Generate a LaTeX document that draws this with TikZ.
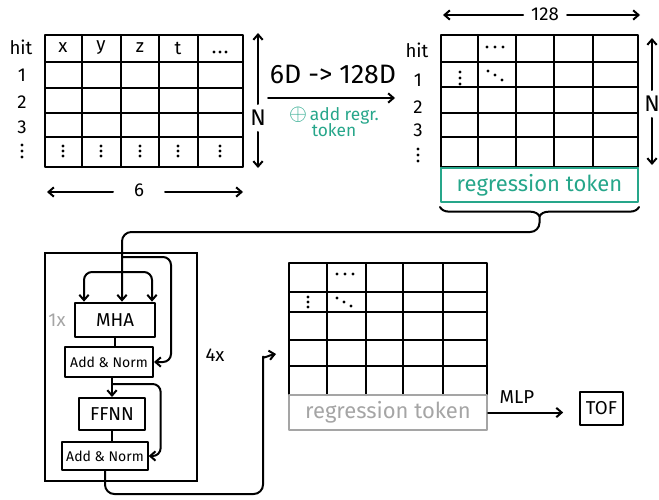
\documentclass[tikz,border=0pt]{standalone}
\usepackage{fontspec}
\setmainfont{Fira Sans}
\usetikzlibrary{arrows.meta,decorations.pathreplacing,calc}
\definecolor{tokgreen}{RGB}{38,166,138}
\definecolor{tokgray}{RGB}{165,165,165}
\tikzset{
  ink/.style={line width=1.5pt, line cap=round, line join=round},
  blk/.style={draw, ink, rectangle, inner sep=0pt},
  tip/.style={-{Straight Barb[length=4pt,width=7pt]}},
  lbl/.style={font=\fontsize{14}{16}\selectfont, inner sep=0pt},
  big/.style={font=\fontsize{17}{19}\selectfont, inner sep=0pt},
  huge/.style={font=\fontsize{20}{22}\selectfont, inner sep=0pt},
  tok/.style={font=\fontsize{16.5}{18}\selectfont},
  small/.style={font=\fontsize{10.5}{12}\selectfont},
  note/.style={font=\fontsize{13}{13}\selectfont},
  dot/.style={fill, radius=1.2pt},
}
\begin{document}
\begin{tikzpicture}[x=0.75pt,y=-0.75pt]
\useasboundingbox (0,0) rectangle (659,499);

% ---------- input table: N hits x 6 features ----------
\node[blk, minimum width=148.5pt, minimum height=99pt] (tabA) at (144,101) {};
\foreach \c in {82,121,159,198} \draw[ink] (\c,35) -- (\c,167);
\foreach \r in {62,88,113,137} \draw[ink] (45,\r) -- (243,\r);
\foreach \t/\x in {x/63, y/101, z/140, t/178}
  \node[lbl] at (\x,48) {\t};
\foreach \x in {214,220,226} \fill (\x,52) circle[dot];
\foreach \x in {63,101,140,178,220}
  \foreach \y in {146,151,156} \fill (\x,\y) circle[dot];
\node[lbl] at (21,47) {hit};
\node[lbl] at (22,75) {1};
\node[lbl] at (22,102) {2};
\node[lbl] at (22,127) {3};
\foreach \y in {145,151,157} \fill (22,\y) circle[dot];
% width arrow
\node[lbl] (sixA) at (139,190) {6};
\draw[ink,tip] (113,192) -- (47,192);
\draw[ink,tip] (165,192) -- (243,192);
% height arrow
\node[big] (nA) at (258,118) {N};
\draw[ink,tip] (258,104) -- (258,33);
\draw[ink,tip] (258,132) -- (258,168);

% ---------- embedding step ----------
\coordinate (embL) at (268,98);
\coordinate (embR) at (395,98);
\draw[ink,tip] (embL) -- (embR);
\node[huge] at (333,74) {6D -> 128D};
\node[note, text=tokgreen, align=center, inner sep=0pt] at (334,122)
  {{\fontsize{17}{17}\selectfont$\oplus$}\,add regr.\\[-1pt] token};

% ---------- embedded table: N hits x 128 ----------
\node[blk, minimum width=147.75pt, minimum height=99pt] (tabB) at (539.5,101) {};
\foreach \c in {478,516,554,593} \draw[ink] (\c,35) -- (\c,167);
\foreach \r in {62,87,113,137} \draw[ink] (441,\r) -- (638,\r);
\foreach \x in {487,495,503} \fill (\x,47) circle[dot];
\foreach \y in {72,78,84} \fill (460,\y) circle[dot];
\fill (488,71) circle[dot] (495,75) circle[dot] (502,80) circle[dot];
\node[lbl] at (417,50) {hit};
\node[lbl] at (418,80) {1};
\node[lbl] at (418,107) {2};
\node[lbl] at (418,130) {3};
\foreach \y in {149,155,161} \fill (418,\y) circle[dot];
\node[lbl] (dimB) at (545,14) {128};
\draw[ink,tip] (523,15) -- (443,15);
\draw[ink,tip] (567,15) -- (640,15);
\node[big] (nB) at (652,104) {N};
\draw[ink,tip] (652,90) -- (652,38);
\draw[ink,tip] (652,118) -- (652,165);
% regression token row
\node[blk, draw=tokgreen, minimum width=147.75pt, minimum height=25.5pt,
      tok, text=tokgreen] (regB) at (539.5,185) {regression token};
\draw[ink, decorate, decoration={brace, mirror, amplitude=7pt, raise=3pt}]
  (regB.south west) -- (regB.south east);
\coordinate (braceTip) at ($(regB.south)+(0,13)$);

% ---------- transformer encoder block ----------
\node[draw, line width=1.1pt, minimum width=114pt, minimum height=171pt] (enc) at (121,367) {};
\node[blk, minimum width=60pt, minimum height=26pt, lbl] (mha) at (115,320) {MHA};
\node[blk, minimum width=66pt, minimum height=22.5pt, small] (an1) at (109,362) {Add \& Norm};
\node[blk, minimum width=49pt, minimum height=24pt, lbl] (ffnn) at (112,414) {FFNN};
\node[blk, minimum width=64pt, minimum height=21pt, small] (an2) at (105,456) {Add \& Norm};
\node[lbl, text=tokgray] at (57,320) {1x};
\node[lbl] at (215,355) {4x};

% tokens into the encoder
\coordinate (bend) at (122,232);
\coordinate (split) at (122,272);
\draw[ink,tip,rounded corners=7pt] (braceTip) |- (bend) -- (bend |- mha.north);
\draw[ink,tip,rounded corners=6pt] (split) -| ($(mha.north west)+(10,0)$);
\draw[ink,tip,rounded corners=6pt] (split) -| ($(mha.north east)+(-4,0)$);
% residual connections
\draw[ink,tip,rounded corners=6pt] (122,257) -| ($(an1.east)+(17,0)$) -- (an1.east);
\draw[ink,tip,rounded corners=6pt] ($(ffnn.north)+(0,-13)$) -| ($(an2.east)+(12,0)$) -- (an2.east);
% sublayer links
\draw[ink] (mha.south) -- (mha.south |- an1.north);
\draw[ink,tip] (ffnn.north |- an1.south) -- (ffnn.north);
\draw[ink] (ffnn.south) -- (ffnn.south |- an2.north);
% encoder output
\coordinate (outC) at (276,354);
\draw[ink,tip,rounded corners=7pt] (an2.south) |- (263,494) -- (263,366)
  to[out=90,in=190] (outC);

% ---------- encoded table ----------
\node[blk, minimum width=148.5pt, minimum height=99pt] (tabC) at (388,329) {};
\foreach \c in {327,366,403,443} \draw[ink] (\c,263) -- (\c,395);
\foreach \r in {292,312,340,366} \draw[ink] (289,\r) -- (487,\r);
\foreach \x in {337,345,353} \fill (\x,274) circle[dot];
\foreach \y in {297,302,307} \fill (308,\y) circle[dot];
\fill (337,298) circle[dot] (344,302) circle[dot] (351,306) circle[dot];
\node[blk, draw=tokgray, minimum width=148.5pt, minimum height=26.25pt,
      tok, text=tokgray] (regC) at (388,412.5) {regression token};

% ---------- regression head ----------
\node[blk, minimum width=32pt, minimum height=25pt, lbl] (tof) at (601.5,408.5) {TOF};
\draw[ink,tip,shorten >=12pt] (regC.east) -- (regC.east -| tof.west);
\node[lbl] at (517,397) {MLP};
\end{tikzpicture}
\end{document}
